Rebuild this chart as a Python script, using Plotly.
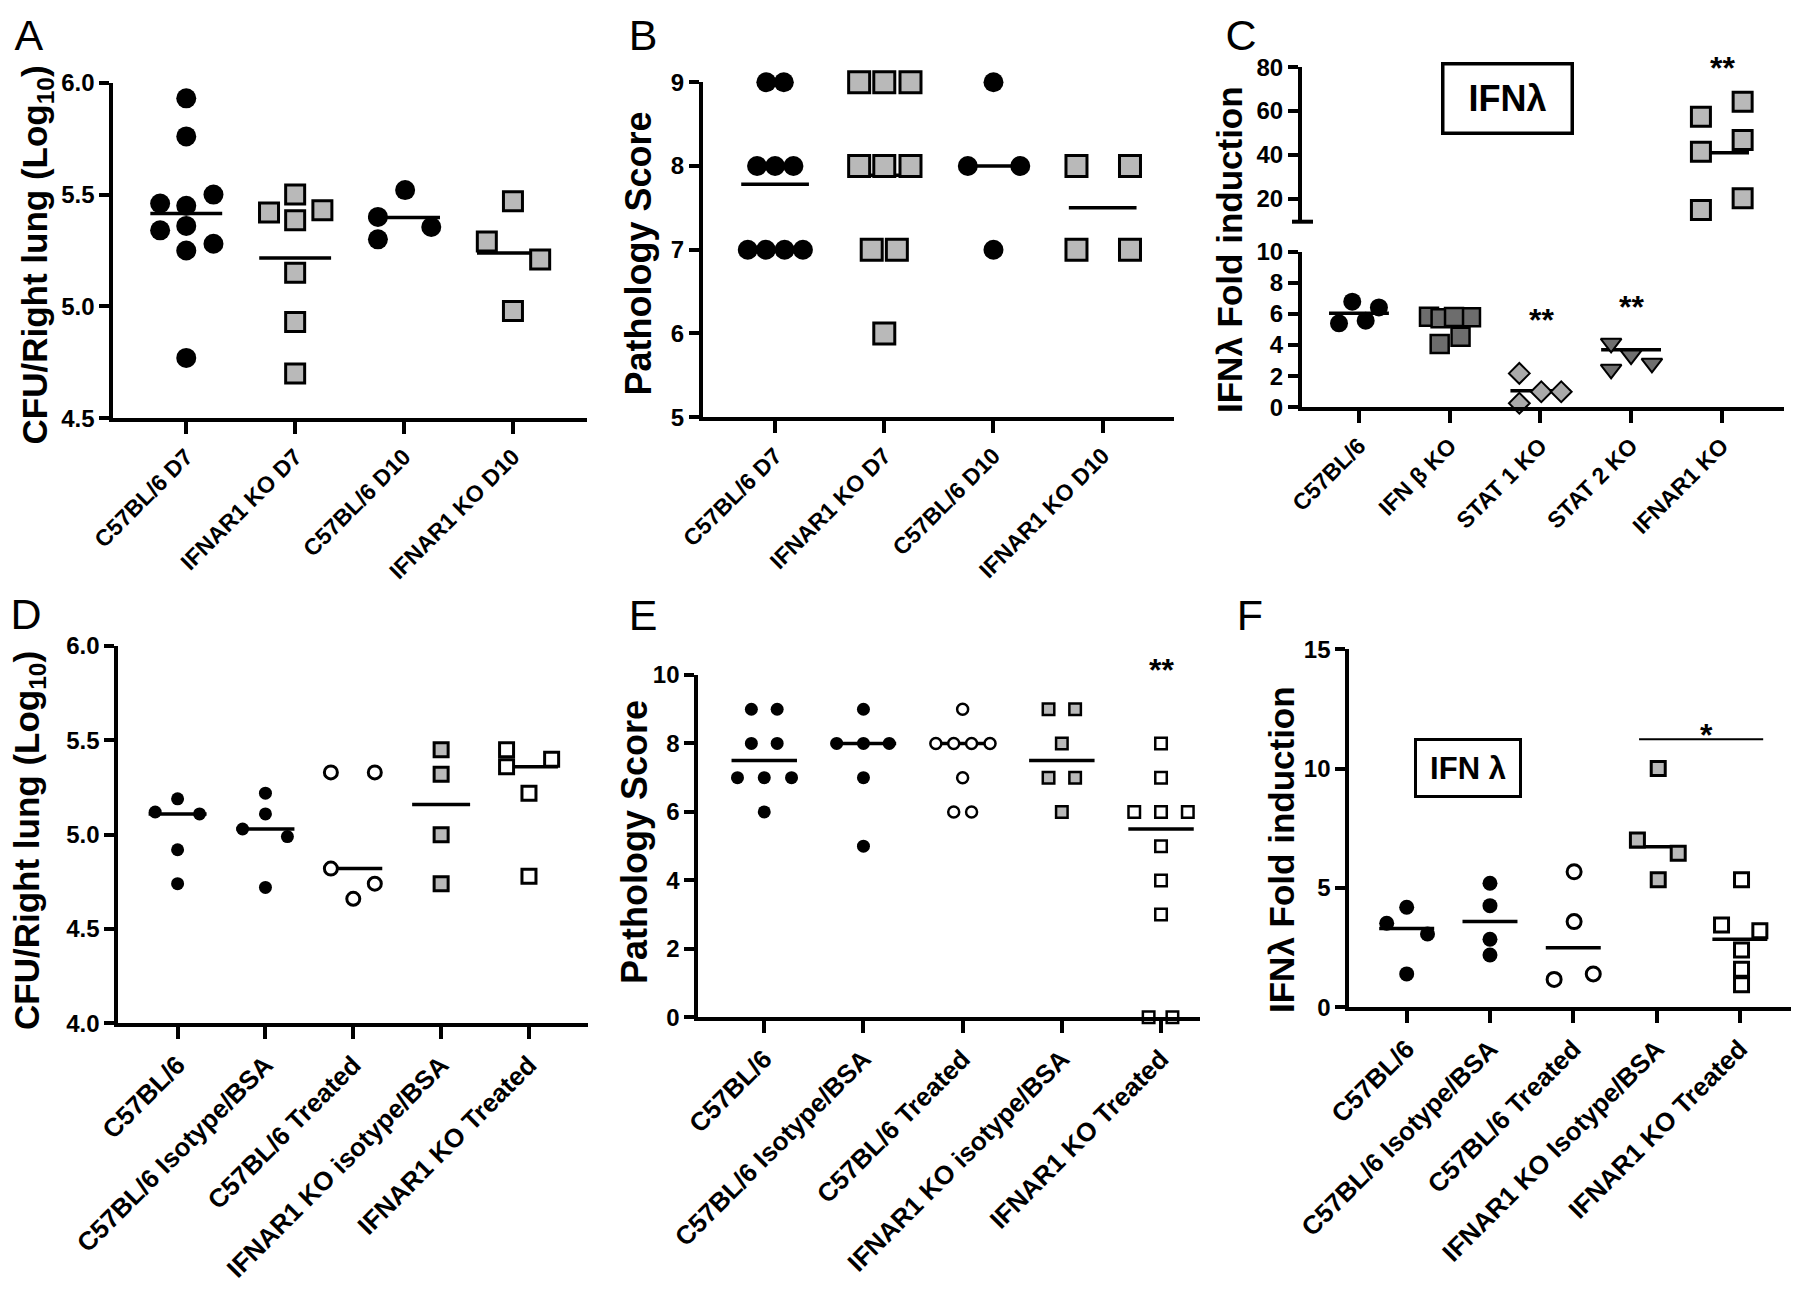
import plotly.graph_objects as go

# page body has an 8px margin; the figure is sized to fit inside the window
OFF = 8
W, H = 1784, 1280
FONT = "Liberation Sans"

# ---------------- data ----------------
# Panel A: CFU/Right lung (Log10)
A_cats = ["C57BL/6 D7", "IFNAR1 KO D7", "C57BL/6 D10", "IFNAR1 KO D10"]
A_wt_d7 = [5.93, 5.76, 5.50, 5.46, 5.45, 5.36, 5.34, 5.28, 5.25, 4.77]
A_wt_d7_dx = [0, 0, 0.25, -0.24, 0, 0, -0.24, 0.25, 0, 0]
A_ko_d7 = [5.50, 5.42, 5.43, 5.385, 5.15, 4.93, 4.70]
A_ko_d7_dx = [0, -0.24, 0.25, 0, 0, 0, 0]
A_wt_d10 = [5.52, 5.40, 5.355, 5.30]
A_wt_d10_dx = [0.01, -0.24, 0.25, -0.24]
A_ko_d10 = [5.47, 5.29, 5.21, 4.98]
A_ko_d10_dx = [0, -0.24, 0.25, 0]
A_lines = [5.415, 5.216, 5.397, 5.239]

# Panel B: Pathology score
B_cats = A_cats
B_wt_d7 = [9, 9, 8, 8, 8, 7, 7, 7, 7]
B_wt_d7_dx = [-0.08, 0.08, -0.165, 0, 0.168, -0.25, -0.084, 0.087, 0.255]
B_ko_d7 = [9, 9, 9, 8, 8, 8, 7, 7, 6]
B_ko_d7_dx = [-0.23, 0, 0.24, -0.23, 0, 0.24, -0.115, 0.115, 0]
B_wt_d10 = [9, 8, 8, 7]
B_wt_d10_dx = [0, -0.235, 0.245, 0]
B_ko_d10 = [8, 8, 7, 7]
B_ko_d10_dx = [-0.24, 0.25, -0.24, 0.25]
B_lines = [7.78, 7.89, 8.0, 7.5]

# Panel C: IFN-lambda fold induction (broken axis)
C_cats = ["C57BL/6", "IFN β KO", "STAT 1 KO", "STAT 2 KO", "IFNAR1 KO"]
C_wt = [6.79, 5.40, 5.57, 6.42]
C_wt_dx = [-0.074, -0.22, 0.074, 0.22]
C_ifnb = [5.82, 5.78, 4.54, 4.07, 5.72, 5.80]
C_ifnb_dx = [-0.228, 0.235, 0.12, -0.11, -0.10, 0.048]
C_stat1 = [2.18, 0.26, 1.00, 1.00]
C_stat1_dx = [-0.232, -0.232, 0.01, 0.23]
C_stat2 = [4.11, 3.36, 2.83, 2.44]
C_stat2_dx = [-0.22, 0.0, 0.23, -0.22]
C_ifnar = [57.4, 64.3, 41.5, 46.8, 14.9, 20.3]
C_ifnar_dx = [-0.23, 0.23, -0.23, 0.23, -0.23, 0.23]
C_lines = [6.05, 5.3, 1.07, 3.7, 41.0]

# Panel D: CFU/Right lung (Log10)
D_cats = ["C57BL/6", "C57BL/6 Isotype/BSA", "C57BL/6 Treated",
          "IFNAR1 KO isotype/BSA", "IFNAR1 KO Treated"]
D_wt = [5.12, 5.19, 5.11, 4.92, 4.74]
D_wt_dx = [-0.255, 0, 0.25, 0, 0]
D_wt_iso = [5.03, 5.22, 5.11, 4.99, 4.72]
D_wt_iso_dx = [-0.26, 0, 0, 0.25, 0]
D_wt_trt = [5.33, 5.33, 4.82, 4.74, 4.66]
D_wt_trt_dx = [-0.255, 0.245, -0.255, 0.245, 0]
D_ko_iso = [5.45, 5.32, 5.00, 4.74]
D_ko_iso_dx = [0, 0, 0, 0]
D_ko_trt = [5.45, 5.36, 5.40, 5.22, 4.78]
D_ko_trt_dx = [-0.255, -0.255, 0.258, 0, 0]
D_lines = [5.11, 5.03, 4.82, 5.16, 5.36]

# Panel E: Pathology score
E_cats = D_cats
E_wt = [9, 9, 8, 8, 7, 7, 7, 6]
E_wt_dx = [-0.13, 0.13, -0.13, 0.13, -0.27, 0, 0.275, 0]
E_wt_iso = [9, 8, 8, 8, 7, 5]
E_wt_iso_dx = [0, -0.27, 0, 0.26, 0, 0]
E_wt_trt = [9, 8, 8, 8, 8, 7, 6, 6]
E_wt_trt_dx = [0, -0.27, -0.09, 0.09, 0.276, 0, -0.09, 0.09]
E_ko_iso = [9, 9, 8, 7, 7, 6]
E_ko_iso_dx = [-0.134, 0.134, 0, -0.134, 0.134, 0]
E_ko_trt = [8, 7, 6, 6, 6, 5, 4, 3, 0, 0]
E_ko_trt_dx = [0, 0, -0.27, 0, 0.27, 0, 0, 0, -0.125, 0.115]
E_lines = [7.5, 8.0, 8.0, 7.5, 5.5]

# Panel F: IFN-lambda fold induction
F_cats = ["C57BL/6", "C57BL/6 Isotype/BSA", "C57BL/6 Treated",
          "IFNAR1 KO Isotype/BSA", "IFNAR1 KO Treated"]
F_wt = [3.52, 4.19, 3.07, 1.40]
F_wt_dx = [-0.24, 0, 0.25, 0]
F_wt_iso = [5.20, 4.26, 2.85, 2.19]
F_wt_iso_dx = [0, 0, 0, 0]
F_wt_trt = [5.68, 3.59, 1.17, 1.40]
F_wt_trt_dx = [0.01, 0.01, -0.23, 0.24]
F_ko_iso = [10.01, 7.01, 6.45, 5.34]
F_ko_iso_dx = [0.02, -0.23, 0.26, 0.02]
F_ko_trt = [5.34, 3.45, 3.21, 2.40, 1.59, 0.94]
F_ko_trt_dx = [0.02, -0.22, 0.24, 0.02, 0.02, 0.02]
F_lines = [3.30, 3.59, 2.50, 6.73, 2.85]
F_sig_y = 11.23

# ---------------- helpers ----------------
def px(x):
    return (x - OFF) / W


def py(y):
    return 1 - (y - OFF) / H


def style(symbol, fill, lw):
    return dict(symbol=symbol, color=fill, line=dict(color="black", width=lw))


fig = go.Figure()


def add_group(xa, ya, idx, vals, dxs, st, size):
    m = dict(st)
    m["size"] = size
    fig.add_trace(go.Scatter(
        x=[idx + d for d in dxs], y=vals, mode="markers", marker=m,
        xaxis=xa, yaxis=ya, cliponaxis=False, showlegend=False, hoverinfo="skip"))


def add_line(xa, ya, idx, v, half=0.33, width=3.5):
    fig.add_trace(go.Scatter(
        x=[idx - half, idx + half], y=[v, v], mode="lines",
        line=dict(color="black", width=width), xaxis=xa, yaxis=ya,
        cliponaxis=False, showlegend=False, hoverinfo="skip"))


GRAY = "#b9b9b9"

# ---------------- panel A ----------------
for i, v in enumerate(A_lines):
    add_line("x", "y", i, v)
add_group("x", "y", 0, A_wt_d7, A_wt_d7_dx, style("circle", "black", 0), 20)
add_group("x", "y", 1, A_ko_d7, A_ko_d7_dx, style("square", GRAY, 3), 19)
add_group("x", "y", 2, A_wt_d10, A_wt_d10_dx, style("circle", "black", 0), 20)
add_group("x", "y", 3, A_ko_d10, A_ko_d10_dx, style("square", GRAY, 3), 19)

# ---------------- panel B ----------------
for i, v in enumerate(B_lines):
    add_line("x2", "y2", i, v, half=0.31)
add_group("x2", "y2", 0, B_wt_d7, B_wt_d7_dx, style("circle", "black", 0), 20)
add_group("x2", "y2", 1, B_ko_d7, B_ko_d7_dx, style("square", GRAY, 3), 21)
add_group("x2", "y2", 2, B_wt_d10, B_wt_d10_dx, style("circle", "black", 0), 20)
add_group("x2", "y2", 3, B_ko_d10, B_ko_d10_dx, style("square", GRAY, 3), 21)

# ---------------- panel C ----------------
for i, v in enumerate(C_lines[:4]):
    add_line("x3", "y3", i, v)
add_line("x3", "y7", 4, C_lines[4], half=0.3)
add_group("x3", "y3", 0, C_wt, C_wt_dx, style("circle", "black", 0), 18)
add_group("x3", "y3", 1, C_ifnb, C_ifnb_dx, style("square", "#6d6d6d", 2.5), 18)
add_group("x3", "y3", 2, C_stat1, C_stat1_dx, style("diamond", "#a9a9a9", 2), 16)
add_group("x3", "y3", 3, C_stat2, C_stat2_dx, style("triangle-down", "#6f6f6f", 2), 18)
add_group("x3", "y7", 4, C_ifnar, C_ifnar_dx, style("square", GRAY, 3), 19)

# ---------------- panel D ----------------
for i, v in enumerate(D_lines):
    add_line("x4", "y4", i, v)
add_group("x4", "y4", 0, D_wt, D_wt_dx, style("circle", "black", 0), 13)
add_group("x4", "y4", 1, D_wt_iso, D_wt_iso_dx, style("circle", "black", 0), 13)
add_group("x4", "y4", 2, D_wt_trt, D_wt_trt_dx, style("circle", "white", 3), 13)
add_group("x4", "y4", 3, D_ko_iso, D_ko_iso_dx, style("square", GRAY, 3), 14)
add_group("x4", "y4", 4, D_ko_trt, D_ko_trt_dx, style("square", "white", 3), 14)

# ---------------- panel E ----------------
for i, v in enumerate(E_lines):
    add_line("x5", "y5", i, v)
add_group("x5", "y5", 0, E_wt, E_wt_dx, style("circle", "black", 0), 13)
add_group("x5", "y5", 1, E_wt_iso, E_wt_iso_dx, style("circle", "black", 0), 13)
add_group("x5", "y5", 2, E_wt_trt, E_wt_trt_dx, style("circle", "white", 2.5), 11)
add_group("x5", "y5", 3, E_ko_iso, E_ko_iso_dx, style("square", GRAY, 2.5), 11.5)
add_group("x5", "y5", 4, E_ko_trt, E_ko_trt_dx, style("square", "white", 2.5), 11.5)

# ---------------- panel F ----------------
for i, v in enumerate(F_lines):
    add_line("x6", "y6", i, v)
add_group("x6", "y6", 0, F_wt, F_wt_dx, style("circle", "black", 0), 15)
add_group("x6", "y6", 1, F_wt_iso, F_wt_iso_dx, style("circle", "black", 0), 15)
add_group("x6", "y6", 2, F_wt_trt, F_wt_trt_dx, style("circle", "white", 3), 14)
add_group("x6", "y6", 3, F_ko_iso, F_ko_iso_dx, style("square", GRAY, 3), 14)
add_group("x6", "y6", 4, F_ko_trt, F_ko_trt_dx, style("square", "white", 3), 14)
fig.add_trace(go.Scatter(x=[3 - 0.21, 4 + 0.28], y=[F_sig_y, F_sig_y], mode="lines",
                         line=dict(color="black", width=2), xaxis="x6", yaxis="y6",
                         cliponaxis=False, showlegend=False, hoverinfo="skip"))

# ---------------- axes ----------------
TICKFONT = dict(family=FONT, size=24, color="black", weight="bold")


def xaxis(x0, x1, rng, cats, anchor, size):
    return dict(domain=[px(x0), px(x1)], range=rng, anchor=anchor, automargin=False,
                showline=True, linecolor="black", linewidth=4,
                ticks="outside", ticklen=12, tickwidth=4, tickcolor="black",
                tickmode="array", tickvals=list(range(len(cats))), ticktext=cats,
                tickangle=-45,
                tickfont=dict(family=FONT, size=size, color="black", weight="bold"),
                showgrid=False, zeroline=False, fixedrange=True)


def yaxis(top, bot, rng, vals, texts, anchor):
    return dict(domain=[py(bot), py(top)], range=rng, anchor=anchor, automargin=False,
                showline=True, linecolor="black", linewidth=4,
                ticks="outside", ticklen=10, tickwidth=3.5, tickcolor="black",
                tickmode="array", tickvals=vals, ticktext=texts,
                tickfont=TICKFONT, showgrid=False, zeroline=False, fixedrange=True)


A_ticks = [4.5, 5.0, 5.5, 6.0]
B_ticks = [5, 6, 7, 8, 9]
C_low_ticks = [0, 2, 4, 6, 8, 10]
C_up_ticks = [20, 40, 60, 80]
D_ticks = [4.0, 4.5, 5.0, 5.5, 6.0]
E_ticks = [0, 2, 4, 6, 8, 10]
F_ticks = [0, 5, 10, 15]

layout = dict(
    width=W, height=H, margin=dict(l=0, r=0, t=0, b=0, autoexpand=False),
    template="none",
    paper_bgcolor="white", plot_bgcolor="rgba(0,0,0,0)", showlegend=False,
    xaxis=xaxis(113.3, 587, [-0.67, 3.68], A_cats, "y", 23),
    yaxis=yaxis(82.7, 418.3, [4.5, 6.0], A_ticks, [f"{t:.1f}" for t in A_ticks], "x"),
    xaxis2=xaxis(703, 1174, [-0.66, 3.653], B_cats, "y2", 23),
    yaxis2=yaxis(82.2, 417.2, [5, 9], B_ticks, [str(t) for t in B_ticks], "x2"),
    xaxis3=xaxis(1302, 1784, [-0.628, 4.686], C_cats, "y3", 23),
    yaxis3=yaxis(251.7, 407.3, [0, 10], C_low_ticks, [str(t) for t in C_low_ticks], "x3"),
    yaxis7=yaxis(67.2, 221.7, [9.6, 80], C_up_ticks, [str(t) for t in C_up_ticks], "x3"),
    xaxis4=xaxis(118.3, 588, [-0.675, 4.672], D_cats, "y4", 26),
    yaxis4=yaxis(646, 1023.3, [4.0, 6.0], D_ticks, [f"{t:.1f}" for t in D_ticks], "x4"),
    xaxis5=xaxis(698.3, 1200, [-0.665, 4.393], E_cats, "y5", 26),
    yaxis5=yaxis(675, 1017.3, [0, 10], E_ticks, [str(t) for t in E_ticks], "x5"),
    xaxis6=xaxis(1349.3, 1791, [-0.689, 4.614], F_cats, "y6", 26),
    yaxis6=yaxis(649.3, 1007.3, [0, 15], F_ticks, [str(t) for t in F_ticks], "x6"),
)
fig.update_layout(**layout)

# break mark on panel C axis
fig.add_shape(type="line", xref="paper", yref="paper",
              x0=px(1292), x1=px(1313), y0=py(221.7), y1=py(221.7),
              line=dict(color="black", width=4))

ann = []


def paper_text(text, x, y, font, **kw):
    d = dict(text=text, x=px(x), y=py(y), xref="paper", yref="paper",
             showarrow=False, font=font)
    d.setdefault("xanchor", "center")
    d.setdefault("yanchor", "middle")
    d.update(kw)
    ann.append(d)


# panel letters
for letter, x, y in [("A", 10, 35), ("B", 624, 35), ("C", 1222, 35),
                     ("D", 7, 614), ("E", 624, 615), ("F", 1231, 615)]:
    paper_text(letter, x, y, dict(family=FONT, size=43, color="black"),
               xanchor="left", yanchor="middle", height=40, width=36, borderpad=0)

for text, x, y, s in [("CFU/Right lung (Log<sub>10</sub>)", 36.5, 255, 35),
                      ("Pathology Score", 638.5, 254, 36),
                      ("IFNλ Fold induction", 1229, 250, 35),
                      ("CFU/Right lung (Log<sub>10</sub>)", 29, 841, 35),
                      ("Pathology Score", 634, 842, 36),
                      ("IFNλ Fold induction", 1281, 850, 35)]:
    paper_text(text, x, y, dict(family=FONT, size=s, color="black", weight="bold"),
               textangle=-90)

STAR_FONT = dict(family=FONT, size=32, color="black", weight="bold")
for text, x, y in [("**", 1541.7, 320), ("**", 1631.7, 307),
                   ("**", 1722.5, 68), ("**", 1161.7, 670), ("*", 1706, 735)]:
    paper_text(text, x, y, STAR_FONT)

# labelled boxes
paper_text("IFNλ", 1507.5, 98.5,
           dict(family=FONT, size=36, color="black", weight="bold"),
           width=124, height=64, bordercolor="black", borderwidth=3.5,
           bgcolor="white")
paper_text("IFN λ", 1468.3, 767.5,
           dict(family=FONT, size=31, color="black", weight="bold"),
           width=100, height=52, bordercolor="black", borderwidth=3,
           bgcolor="white")

fig.update_layout(annotations=ann)
fig.write_html("out.html")
